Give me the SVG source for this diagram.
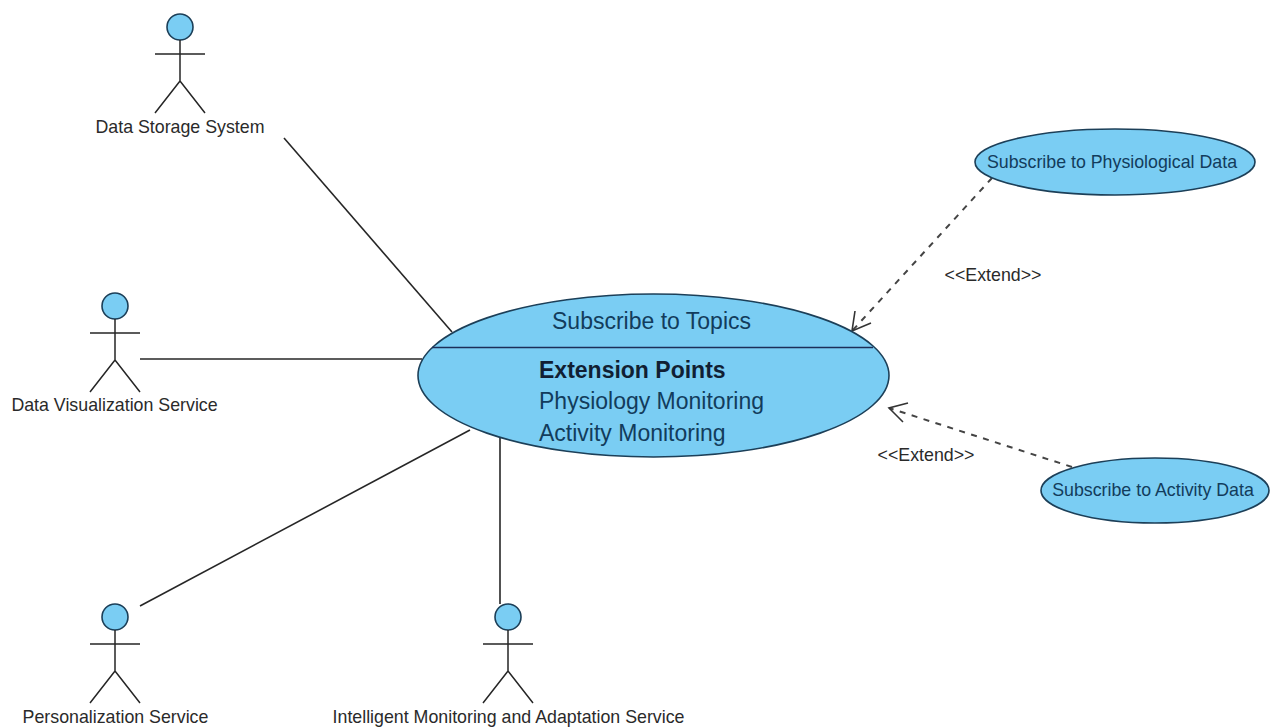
<svg xmlns="http://www.w3.org/2000/svg" width="1271" height="727" viewBox="0 0 1271 727">
<style>
text{font-family:"Liberation Sans",Arial,sans-serif;fill:#2a2a2a}
.l{font-size:17.8px;text-anchor:middle}
.u{font-size:17.8px;text-anchor:middle;fill:#123c5c}
.m{font-size:23px;fill:#123c5c}
.fill{fill:#7acdf3;stroke:#1c3f58;stroke-width:1.6}
.a{fill:none;stroke:#262626;stroke-width:1.5}
.c{fill:none;stroke:#262626;stroke-width:1.6}
.d{fill:none;stroke:#444;stroke-width:2;stroke-dasharray:6 6.5}
.h{fill:none;stroke:#333;stroke-width:1.6}
</style>
<defs>
<g id="actor">
<circle class="fill" cx="0" cy="13" r="13"/>
<path class="a" d="M0 26V67M-25 40H25M-25 99L0 67L25 99"/>
</g>
</defs>
<g id="connectors">
<path class="c" d="M284 138L452 332"/>
<path class="c" d="M140 359H422"/>
<path class="c" d="M140 606L470 430"/>
<path class="c" d="M500 437V604"/>
<path class="d" d="M992 178L852 331"/>
<path class="h" d="M855 311L852 331L871 323"/>
<path class="d" d="M1072 467L889 408"/>
<path class="h" d="M908 403L889 408L903 422"/>
</g>
<g id="actor-storage"><use href="#actor" x="180" y="14"/><text class="l" x="180" y="132.500">Data Storage System</text></g>
<g id="actor-visualization"><use href="#actor" x="115" y="293"/><text class="l" x="114.500" y="410.500">Data Visualization Service</text></g>
<g id="actor-personalization"><use href="#actor" x="115" y="604"/><text class="l" x="115.500" y="722.500">Personalization Service</text></g>
<g id="actor-monitoring"><use href="#actor" x="508" y="604"/><text class="l" x="508.500" y="722.500">Intelligent Monitoring and Adaptation Service</text></g>
<g id="uc-topics">
<ellipse class="fill" cx="653.5" cy="375.5" rx="235.5" ry="81.5"/>
<path d="M432 347.500H873" stroke="#1c2f58" stroke-width="1.6"/>
<text class="m" x="552" y="329">Subscribe to Topics</text>
<text class="m" x="539" y="378" font-weight="700" style="fill:#111f33">Extension Points</text>
<text class="m" x="539" y="409">Physiology Monitoring</text>
<text class="m" x="539" y="441">Activity Monitoring</text>
</g>
<g id="uc-physiological">
<ellipse class="fill" cx="1115" cy="162" rx="140" ry="33"/>
<text class="u" x="1112" y="168">Subscribe to Physiological Data</text>
</g>
<g id="uc-activity">
<ellipse class="fill" cx="1155" cy="490.5" rx="114" ry="32.5"/>
<text class="u" x="1153" y="496">Subscribe to Activity Data</text>
</g>
<g id="labels">
<text class="l" x="993" y="280.500">&lt;&lt;Extend&gt;&gt;</text>
<text class="l" x="926" y="460.500">&lt;&lt;Extend&gt;&gt;</text>
</g>
</svg>
